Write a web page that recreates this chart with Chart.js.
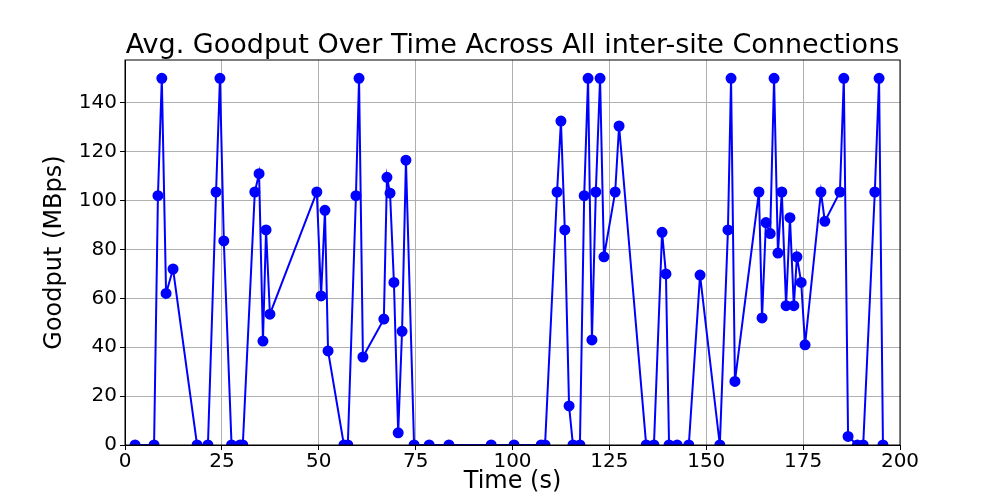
<!DOCTYPE html>
<html>
<head>
<script src="https://cdn.jsdelivr.net/npm/chart.js@4/dist/chart.umd.min.js"></script>
<style>
  body { margin: 0; background: #fff; }
  #wrap { width: 1000px; height: 500px; }
</style>
</head>
<body>
<div id="wrap"><canvas id="mainChart"></canvas></div>
<script>
const times = [2.6, 7.5, 8.5, 9.5, 10.6, 12.4, 18.6, 21.4, 23.5, 24.5, 25.5, 27.5, 29.7, 30.4,
    33.5, 34.6, 35.6, 36.4, 37.4, 49.5, 50.6, 51.6, 52.4, 56.5, 57.5, 59.6, 60.4, 61.4,
    66.8, 67.6, 68.4, 69.4, 70.5, 71.5, 72.5, 74.6, 78.5, 83.6, 94.5, 100.4, 107.4, 108.4,
    111.5, 112.5, 113.5, 114.6, 115.6, 117.4, 118.5, 119.5, 120.5, 121.5, 122.6, 123.6,
    126.5, 127.5, 134.5, 136.5, 138.6, 139.6, 140.4, 142.5, 145.5, 148.4, 153.5, 155.6,
    156.4, 157.4, 163.6, 164.4, 165.4, 166.5, 167.5, 168.5, 169.5, 170.6, 171.6, 172.6,
    173.4, 174.5, 175.5, 179.6, 180.6, 184.5, 185.5, 186.6, 189.0, 190.5, 193.5, 194.6, 195.6]
const goodput = [0, 0, 102, 150, 62, 72, 0, 0, 103.5, 150, 83.5, 0, 0, 0,
    103.5, 111, 42.5, 88, 53.5, 103.5, 61, 96, 38.5, 0, 0, 102, 150, 36,
    51.5, 109.5, 103, 66.5, 5, 46.5, 116.5, 0, 0, 0, 0, 0, 0, 0,
    103.5, 132.5, 88, 16, 0, 0, 102, 150, 43, 103.5, 150, 77,
    103.5, 130.5, 0, 0, 87, 70, 0, 0, 0, 69.5, 0, 88,
    150, 26, 103.5, 52, 91, 86.5, 150, 78.5, 103.5, 57, 93, 57,
    77, 66.5, 41, 103.5, 91.5, 103.5, 150, 3.5, 0, 0, 103.5, 150, 0]
const xTicks = [0, 25, 50, 75, 100, 125, 150, 175, 200]
const yTicks = [0, 20, 40, 60, 80, 100, 120, 140]
const titleText = 'Avg. Goodput Over Time Across All inter-site Connections'

// frame around the axes and a title centred over the plot area, like matplotlib
const frame = {
    id: 'frame',
    afterDraw(chart) {
        const a = chart.chartArea
        const ctx = chart.ctx
        ctx.save()
        ctx.strokeStyle = '#000'
        ctx.lineWidth = 1
        ctx.strokeRect(a.left, a.top, a.right - a.left, a.bottom - a.top)
        ctx.fillStyle = '#000'
        ctx.font = '27px "DejaVu Sans"'
        ctx.textAlign = 'center'
        ctx.textBaseline = 'alphabetic'
        ctx.fillText(titleText, (a.left + a.right) / 2, a.top - 7)
        ctx.restore()
    }
}

Chart.defaults.font.family = 'DejaVu Sans'
Chart.defaults.color = '#000'

const ctx = document.getElementById('mainChart').getContext('2d')
new Chart(ctx, {
    type: 'scatter',
    data: {
        datasets: [{
            data: times.map((t, i) => ({ x: t, y: goodput[i] })),
            showLine: true,
            borderColor: '#0000ff',
            backgroundColor: '#0000ff',
            borderWidth: 2,
            pointRadius: 4.5,
            pointHoverRadius: 4.5
        }]
    },
    options: {
        responsive: true,
        maintainAspectRatio: false,
        animation: false,
        layout: { padding: { left: 40, right: 100, top: 60 } },
        plugins: {
            legend: { display: false },
            tooltip: { enabled: false },
            title: { display: false }
        },
        scales: {
            x: {
                type: 'linear', min: 0, max: 200,
                afterBuildTicks: s => { s.ticks = xTicks.map(v => ({ value: v })) },
                afterFit: s => { s.height = 55 },
                grid: { color: '#b0b0b0', tickLength: 5, tickColor: '#000' },
                border: { color: '#000' },
                ticks: { font: { size: 20 }, padding: 0 },
                title: { display: true, text: 'Time (s)', font: { size: 24 }, padding: { top: 0 } }
            },
            y: {
                type: 'linear', min: 0, max: 157.5,
                afterBuildTicks: s => { s.ticks = yTicks.map(v => ({ value: v })) },
                afterFit: s => { s.width = 85 },
                grid: { color: '#b0b0b0', tickLength: 5, tickColor: '#000' },
                border: { color: '#000' },
                ticks: { font: { size: 20 }, padding: 3 },
                title: { display: true, text: 'Goodput (MBps)', font: { size: 24 }, padding: 0 }
            }
        }
    },
    plugins: [frame]
})
</script>
</body>
</html>
